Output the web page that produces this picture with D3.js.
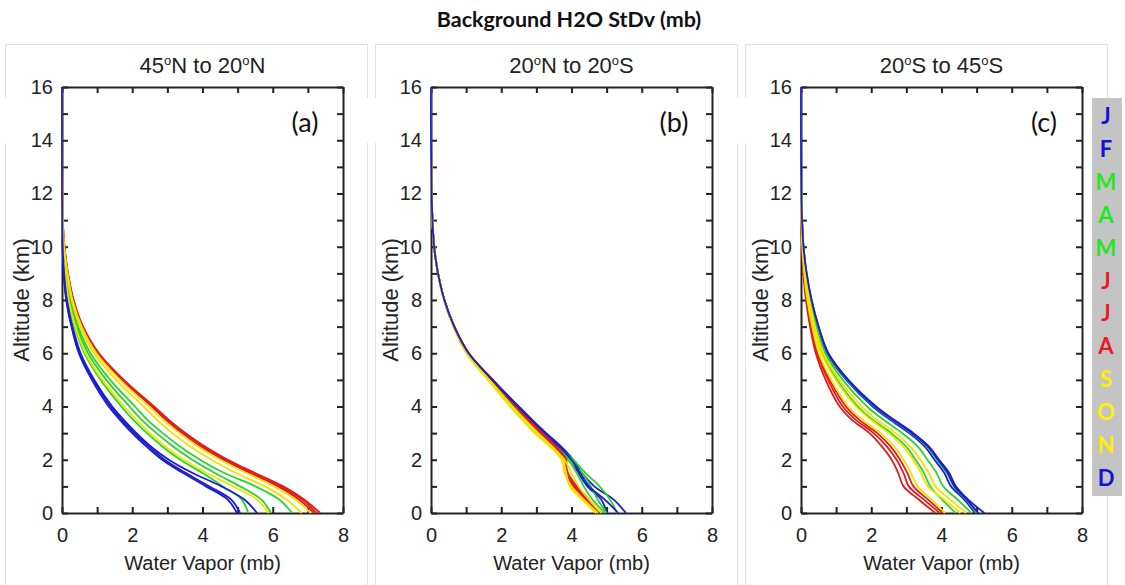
<!DOCTYPE html>
<html>
<head>
<meta charset="utf-8">
<script src="https://cdn.jsdelivr.net/npm/d3@7"></script>
<style>
  body { margin: 0; background: #fff; }
  text { font-family: "Liberation Sans", Arial, sans-serif; fill: #222; }
</style>
</head>
<body>
<div id="chart"></div>
<script>
// Altitude levels (km) that every profile is sampled at
var altitudes = [0, 0.5, 1, 1.5, 2, 2.5, 3, 3.5, 4, 5, 6, 7, 8, 9, 10, 11, 12, 14, 16];

// Month letters and the colour group of each month
var months = ["J", "F", "M", "A", "M", "J", "J", "A", "S", "O", "N", "D"];
var monthGroups = ["blue", "blue", "green", "green", "green", "red", "red", "red", "yellow", "yellow", "yellow", "blue"];

// Panel titles and tags
var panelTitles = ["45°N to 20°N", "20°N to 20°S", "20°S to 45°S"];
var panelTags = ["(a)", "(b)", "(c)"];

// Tick values
var xTicks = [0, 1, 2, 3, 4, 5, 6, 7, 8];
var yTicks = [0, 1, 2, 3, 4, 5, 6, 7, 8, 9, 10, 11, 12, 13, 14, 15, 16];

// Water vapour standard deviation (mb) per month, panel (a) 45N-20N
var northJan = [4.98, 4.72, 4.1, 3.45, 2.85, 2.4, 2.0, 1.65, 1.33, 0.85, 0.48, 0.27, 0.12, 0.05, 0.02, 0.01, 0, 0, 0];
var northFeb = [5.07, 4.82, 4.19, 3.53, 2.92, 2.47, 2.06, 1.7, 1.38, 0.89, 0.5, 0.28, 0.13, 0.05, 0.02, 0.01, 0, 0, 0];
var northMar = [5.3, 5.12, 4.58, 4.0, 3.37, 2.86, 2.42, 2.03, 1.69, 1.1, 0.64, 0.36, 0.18, 0.08, 0.03, 0.01, 0, 0, 0];
var northApr = [5.95, 5.68, 5.07, 4.35, 3.71, 3.16, 2.69, 2.27, 1.92, 1.26, 0.74, 0.42, 0.22, 0.11, 0.04, 0.01, 0, 0, 0];
var northMay = [6.55, 6.19, 5.51, 4.62, 3.93, 3.36, 2.87, 2.43, 2.08, 1.37, 0.81, 0.46, 0.24, 0.12, 0.05, 0.02, 0.01, 0, 0];
var northJun = [7.18, 6.75, 6.15, 5.35, 4.59, 3.95, 3.42, 2.96, 2.55, 1.7, 1.01, 0.58, 0.32, 0.16, 0.07, 0.02, 0.01, 0, 0];
var northJul = [7.35, 6.9, 6.3, 5.5, 4.72, 4.07, 3.52, 3.04, 2.62, 1.76, 1.05, 0.6, 0.33, 0.17, 0.07, 0.02, 0.01, 0, 0];
var northAug = [7.25, 6.84, 6.23, 5.42, 4.66, 4.02, 3.48, 3.0, 2.58, 1.73, 1.03, 0.59, 0.32, 0.17, 0.07, 0.02, 0.01, 0, 0];
var northSep = [7.08, 6.65, 6.04, 5.25, 4.5, 3.87, 3.34, 2.88, 2.48, 1.65, 0.98, 0.56, 0.3, 0.16, 0.06, 0.02, 0.01, 0, 0];
var northOct = [6.82, 6.4, 5.77, 4.95, 4.25, 3.65, 3.14, 2.7, 2.32, 1.54, 0.91, 0.52, 0.28, 0.14, 0.06, 0.02, 0.01, 0, 0];
var northNov = [5.88, 5.56, 4.87, 4.11, 3.47, 2.94, 2.5, 2.12, 1.77, 1.15, 0.67, 0.38, 0.19, 0.09, 0.03, 0.01, 0, 0, 0];
var northDec = [5.55, 5.2, 4.54, 3.72, 3.04, 2.53, 2.12, 1.76, 1.43, 0.92, 0.53, 0.3, 0.14, 0.06, 0.02, 0.01, 0, 0, 0];

// panel (b) 20N-20S
var tropicJan = [5.55, 5.2, 4.65, 4.3, 4.05, 3.7, 3.28, 2.88, 2.5, 1.76, 1.07, 0.66, 0.38, 0.2, 0.09, 0.04, 0.02, 0, 0];
var tropicFeb = [5.0, 4.85, 4.45, 4.2, 3.98, 3.62, 3.22, 2.83, 2.45, 1.74, 1.06, 0.66, 0.38, 0.2, 0.09, 0.04, 0.02, 0, 0];
var tropicMar = [5.3, 5.1, 4.8, 4.4, 4.05, 3.6, 3.18, 2.8, 2.4, 1.7, 1.05, 0.65, 0.38, 0.2, 0.09, 0.04, 0.02, 0, 0];
var tropicApr = [5.0, 4.75, 4.55, 4.3, 3.95, 3.55, 3.12, 2.72, 2.35, 1.66, 1.03, 0.65, 0.37, 0.2, 0.09, 0.04, 0.02, 0, 0];
var tropicMay = [4.95, 4.6, 4.35, 4.15, 3.9, 3.5, 3.08, 2.7, 2.33, 1.65, 1.02, 0.64, 0.37, 0.2, 0.09, 0.04, 0.02, 0, 0];
var tropicJun = [4.85, 4.45, 4.1, 3.85, 3.85, 3.55, 3.15, 2.78, 2.42, 1.74, 1.07, 0.66, 0.38, 0.2, 0.09, 0.04, 0.02, 0, 0];
var tropicJul = [4.8, 4.4, 4.05, 3.83, 3.82, 3.58, 3.18, 2.8, 2.44, 1.76, 1.08, 0.67, 0.38, 0.2, 0.09, 0.04, 0.02, 0, 0];
var tropicAug = [4.78, 4.5, 4.15, 3.9, 3.8, 3.5, 3.12, 2.75, 2.4, 1.74, 1.06, 0.66, 0.38, 0.2, 0.09, 0.04, 0.02, 0, 0];
var tropicSep = [4.75, 4.35, 4.0, 3.8, 3.72, 3.4, 3.0, 2.62, 2.28, 1.64, 1.02, 0.64, 0.37, 0.2, 0.09, 0.04, 0.02, 0, 0];
var tropicOct = [4.7, 4.3, 3.95, 3.85, 3.75, 3.38, 2.95, 2.6, 2.25, 1.62, 1.01, 0.64, 0.37, 0.2, 0.09, 0.04, 0.02, 0, 0];
var tropicNov = [4.85, 4.5, 4.2, 4.0, 3.8, 3.45, 3.05, 2.68, 2.32, 1.66, 1.03, 0.65, 0.37, 0.2, 0.09, 0.04, 0.02, 0, 0];
var tropicDec = [5.33, 4.95, 4.5, 4.25, 4.0, 3.65, 3.25, 2.86, 2.48, 1.75, 1.07, 0.66, 0.38, 0.2, 0.09, 0.04, 0.02, 0, 0];

// panel (c) 20S-45S
var southJan = [5.22, 4.76, 4.41, 4.22, 3.93, 3.64, 3.2, 2.65, 2.14, 1.35, 0.78, 0.5, 0.3, 0.16, 0.07, 0.03, 0.01, 0, 0];
var southFeb = [4.95, 4.65, 4.27, 4.08, 3.8, 3.52, 3.08, 2.54, 2.04, 1.29, 0.74, 0.48, 0.28, 0.15, 0.07, 0.03, 0.01, 0, 0];
var southMar = [5.0, 4.7, 4.35, 4.15, 3.87, 3.58, 3.14, 2.6, 2.09, 1.32, 0.76, 0.49, 0.29, 0.16, 0.07, 0.03, 0.01, 0, 0];
var southApr = [4.85, 4.46, 4.05, 3.86, 3.6, 3.32, 2.88, 2.35, 1.88, 1.19, 0.69, 0.44, 0.26, 0.14, 0.06, 0.02, 0.01, 0, 0];
var southMay = [4.4, 4.02, 3.68, 3.5, 3.26, 2.99, 2.57, 2.04, 1.62, 1.03, 0.6, 0.38, 0.22, 0.11, 0.05, 0.02, 0.01, 0, 0];
var southJun = [3.82, 3.36, 2.92, 2.77, 2.58, 2.3, 1.95, 1.45, 1.1, 0.7, 0.42, 0.26, 0.14, 0.07, 0.03, 0.01, 0, 0, 0];
var southJul = [3.95, 3.5, 3.07, 2.92, 2.72, 2.44, 2.07, 1.56, 1.19, 0.77, 0.46, 0.28, 0.16, 0.08, 0.03, 0.01, 0, 0, 0];
var southAug = [4.04, 3.62, 3.2, 3.03, 2.82, 2.55, 2.17, 1.66, 1.28, 0.82, 0.48, 0.3, 0.17, 0.09, 0.04, 0.01, 0, 0, 0];
var southSep = [4.1, 3.72, 3.32, 3.13, 2.92, 2.65, 2.26, 1.75, 1.35, 0.86, 0.51, 0.32, 0.18, 0.09, 0.04, 0.01, 0, 0, 0];
var southOct = [4.54, 4.08, 3.61, 3.42, 3.19, 2.91, 2.5, 1.99, 1.56, 0.99, 0.58, 0.37, 0.21, 0.11, 0.05, 0.02, 0.01, 0, 0];
var southNov = [4.7, 4.25, 3.83, 3.64, 3.4, 3.11, 2.69, 2.16, 1.72, 1.09, 0.64, 0.4, 0.24, 0.12, 0.05, 0.02, 0.01, 0, 0];
var southDec = [5.05, 4.72, 4.37, 4.18, 3.9, 3.61, 3.16, 2.62, 2.11, 1.33, 0.77, 0.5, 0.3, 0.16, 0.07, 0.03, 0.01, 0, 0];

// Group the monthly profiles per panel
var panelProfiles = [
  [northJan, northFeb, northMar, northApr, northMay, northJun, northJul, northAug, northSep, northOct, northNov, northDec],
  [tropicJan, tropicFeb, tropicMar, tropicApr, tropicMay, tropicJun, tropicJul, tropicAug, tropicSep, tropicOct, tropicNov, tropicDec],
  [southJan, southFeb, southMar, southApr, southMay, southJun, southJul, southAug, southSep, southOct, southNov, southDec],
];

// Colours
var lineColors = { blue: "#1c1cd2", green: "#2bd42b", red: "#df1d1d", yellow: "#f2e200" };
var legendColors = { blue: "#1212d8", green: "#22e822", red: "#ee1a1a", yellow: "#ffee00" };

// SVG area dimensions
var svgWidth = 1125;
var svgHeight = 585;

// Plot frame geometry
var plotLefts = [62, 431, 801];
var plotWidth = 281;
var plotTop = 87;
var plotBottom = 513;

var svg = d3
  .select("#chart")
  .append("svg")
  .attr("width", svgWidth)
  .attr("height", svgHeight);

svg.append("rect").attr("width", svgWidth).attr("height", svgHeight).attr("fill", "#fff");

// Main title
svg
  .append("text")
  .attr("x", 569)
  .attr("y", 27)
  .attr("text-anchor", "middle")
  .style("font-family", "Lato, 'Open Sans', sans-serif")
  .style("font-weight", "bold")
  .style("font-size", "21.5px")
  .style("fill", "#111")
  .text("Background H2O StDv (mb)");

// Shared y scale
var yScale = d3.scaleLinear().domain([0, 16]).range([plotBottom, plotTop]);

panelProfiles.forEach(function (profiles, i) {
  var left = plotLefts[i];
  var xScale = d3.scaleLinear().domain([0, 8]).range([left, left + plotWidth]);

  // light panel border
  svg
    .append("rect")
    .attr("x", 5.5 + i * 370)
    .attr("y", 44.5)
    .attr("width", 362)
    .attr("height", 560)
    .attr("fill", "none")
    .attr("stroke", "#e2e2e2")
    .attr("stroke-width", 1);

  // panel title, with superscript degree marks
  var title = svg
    .append("text")
    .attr("x", left + plotWidth / 2)
    .attr("y", 73)
    .attr("text-anchor", "middle")
    .style("font-size", "22px");
  var parts = panelTitles[i].split("°");
  parts.forEach(function (part, k) {
    if (k > 0) {
      title.append("tspan").attr("dy", -8).style("font-size", "13px").text("o");
      title.append("tspan").attr("dy", 8).text(part);
    } else {
      title.append("tspan").text(part);
    }
  });

  var frame = svg.append("g").attr("class", "frame");

  // bottom axis with labels every 2
  var bottomAxis = d3
    .axisBottom(xScale)
    .tickValues(xTicks)
    .tickSizeInner(-6)
    .tickSizeOuter(0)
    .tickPadding(15)
    .tickFormat((d) => (d % 2 === 0 ? d : ""));
  frame.append("g").attr("transform", `translate(0, ${plotBottom})`).call(bottomAxis);

  // top axis, ticks only
  var topAxis = d3.axisTop(xScale).tickValues(xTicks).tickSizeInner(-6).tickSizeOuter(0).tickFormat("");
  frame.append("g").attr("transform", `translate(0, ${plotTop})`).call(topAxis);

  // left axis with labels every 2
  var leftAxis = d3
    .axisLeft(yScale)
    .tickValues(yTicks)
    .tickSizeInner(-6)
    .tickSizeOuter(0)
    .tickPadding(9)
    .tickFormat((d) => (d % 2 === 0 ? d : ""));
  frame.append("g").attr("transform", `translate(${left}, 0)`).call(leftAxis);

  // right axis, ticks only
  var rightAxis = d3.axisRight(yScale).tickValues(yTicks).tickSizeInner(-6).tickSizeOuter(0).tickFormat("");
  frame.append("g").attr("transform", `translate(${left + plotWidth}, 0)`).call(rightAxis);

  frame.selectAll(".domain").attr("stroke", "#222").attr("stroke-width", 2);
  frame.selectAll(".tick line").attr("stroke", "#222").attr("stroke-width", 2);
  frame
    .selectAll(".tick text")
    .style("font-family", "'Liberation Sans', Arial, sans-serif")
    .style("font-size", "20px")
    .attr("fill", "#222");

  // axis labels
  svg
    .append("text")
    .attr("x", left + plotWidth / 2)
    .attr("y", 570)
    .attr("text-anchor", "middle")
    .style("font-size", "20px")
    .text("Water Vapor (mb)");

  svg
    .append("text")
    .attr("transform", `translate(${left - 33}, ${yScale(8)}) rotate(-90)`)
    .attr("text-anchor", "middle")
    .style("font-size", "22px")
    .text("Altitude (km)");

  // the profiles
  var line = d3
    .line()
    .x((d) => xScale(d[1]))
    .y((d) => yScale(d[0]))
    .curve(d3.curveCatmullRom.alpha(0.5));

  svg
    .append("g")
    .selectAll("path")
    .data(profiles)
    .enter()
    .append("path")
    .attr("d", (p) => line(altitudes.map((a, k) => [a, p[k]])))
    .attr("fill", "none")
    .attr("stroke", (p, m) => lineColors[monthGroups[m]])
    .attr("stroke-width", 1.8);

  // panel tag
  svg
    .append("text")
    .attr("x", left + 243)
    .attr("y", 132)
    .attr("text-anchor", "middle")
    .style("font-family", "Lato, 'Open Sans', sans-serif")
    .style("font-size", "27px")
    .style("fill", "#111")
    .text(panelTags[i]);
});

// white patches over the panel borders (pasted label boxes)
[0, 359, 729].forEach(function (x) {
  svg.append("rect").attr("x", x).attr("y", 98).attr("width", 22).attr("height", 45).attr("fill", "#fff");
});

// month legend
svg
  .append("rect")
  .attr("x", 1092)
  .attr("y", 98)
  .attr("width", 30)
  .attr("height", 398)
  .attr("fill", "#c4c4c4");

svg
  .append("g")
  .selectAll("text")
  .data(months)
  .enter()
  .append("text")
  .attr("x", 1106)
  .attr("y", (d, k) => 124 + k * 32.9)
  .attr("text-anchor", "middle")
  .style("font-family", "Lato, 'Open Sans', sans-serif")
  .style("font-weight", "bold")
  .style("font-size", "22px")
  .style("fill", (d, k) => legendColors[monthGroups[k]])
  .text((d) => d);
</script>
</body>
</html>
